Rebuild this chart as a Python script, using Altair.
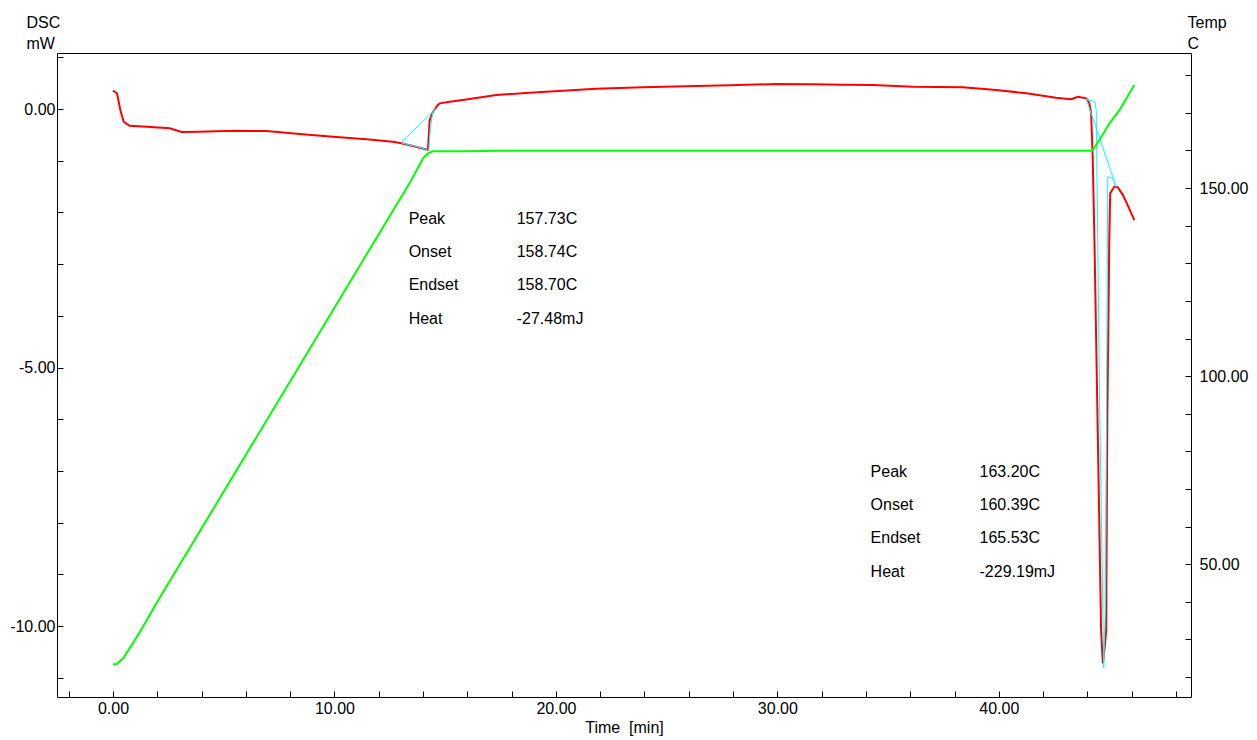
import altair as alt
import pandas as pd

# ---- data ----
dsc_time = [0.00, 0.18, 0.33, 0.48, 0.75, 1.51, 2.56, 3.09, 3.91, 5.42, 6.93, 8.43, 9.93, 11.44,
            12.64, 13.02, 13.54, 14.07, 14.22, 14.30, 14.45, 14.67, 14.75, 15.20, 15.80, 17.31,
            18.81, 20.32, 21.82, 23.93, 26.34, 27.84, 29.95, 31.50, 33.00, 34.31, 36.12, 38.37,
            39.88, 41.24, 42.59, 43.27, 43.57, 43.95, 44.09, 44.17, 44.24, 44.32, 44.46, 44.62,
            44.70, 44.77, 44.85, 44.90, 44.99, 45.03, 45.22, 45.37, 45.60, 45.82, 46.12]
dsc_mw = [0.354, 0.304, -0.02, -0.246, -0.323, -0.342, -0.373, -0.445, -0.439, -0.420, -0.426,
          -0.484, -0.536, -0.586, -0.632, -0.663, -0.716, -0.774, -0.793, -0.213, -0.052, 0.077,
          0.110, 0.141, 0.174, 0.271, 0.315, 0.354, 0.393, 0.420, 0.445, 0.458, 0.484, 0.48,
          0.47, 0.464, 0.431, 0.420, 0.368, 0.304, 0.219, 0.188, 0.238, 0.207, 0.110, -0.083,
          -0.923, -2.534, -6.03, -10.08, -10.72, -10.46, -10.08, -6.02, -2.53, -1.63, -1.50,
          -1.51, -1.66, -1.86, -2.15]

# integration (cyan) segments
base1_time = [13.02, 14.52]
base1_mw = [-0.644, -0.019]
peak1_time = [13.02, 13.54, 14.07, 14.26, 14.33, 14.45, 14.55]
peak1_mw = [-0.655, -0.71, -0.77, -0.80, -0.35, -0.05, 0.02]
base2_time = [43.95, 45.30]
base2_mw = [0.193, -1.503]
peak2_time = [43.95, 44.34, 44.40, 44.55, 44.74, 44.82, 44.92, 45.14, 45.30]
peak2_mw = [0.193, 0.141, -0.02, -5.63, -10.81, -9.5, -1.31, -1.34, -1.50]

temp_time = [0.00, 0.15, 0.45, 1.21, 1.96, 13.47, 14.00, 14.22, 14.45, 15.96, 17.46,
             44.22, 44.55, 45.00, 45.45, 46.12]
temp_c = [23.4, 23.4, 24.9, 31.9, 39.6, 152.1, 157.9, 159.2, 159.8, 159.8, 159.9,
          159.9, 162.8, 167.2, 170.7, 177.4]

ann_labels = ["Peak", "Onset", "Endset", "Heat", "Peak", "Onset", "Endset", "Heat"]
ann_values = ["157.73C", "158.74C", "158.70C", "-27.48mJ",
              "163.20C", "160.39C", "165.53C", "-229.19mJ"]
ann_label_t = [13.35] * 4 + [34.21] * 4
ann_value_t = [18.23] * 4 + [39.13] * 4
ann_mw = [-2.128, -2.766, -3.404, -4.062, -7.02, -7.66, -8.30, -8.96]

x_ticks = list(range(-2, 49, 2))
y_ticks = list(range(-11, 2, 1))
t_ticks = list(range(20, 181, 10))

# ---- tables ----
dsc_df = pd.DataFrame({"t": dsc_time, "v": dsc_mw, "i": range(len(dsc_time))})
rows = []
for name, ts, vs in [("b1", base1_time, base1_mw), ("p1", peak1_time, peak1_mw),
                     ("b2", base2_time, base2_mw), ("p2", peak2_time, peak2_mw)]:
    for k, (a, b) in enumerate(zip(ts, vs)):
        rows.append({"t": a, "v": b, "seg": name, "i": k})
cyan_df = pd.DataFrame(rows)
temp_df = pd.DataFrame({"t": temp_time, "T": temp_c, "i": range(len(temp_time))})
ann_df = pd.DataFrame({
    "t": ann_label_t + ann_value_t,
    "v": ann_mw + ann_mw,
    "txt": ann_labels + ann_values,
})

FONT = "Liberation Sans"
MINUS = "replace(format(datum.value, '.2f'), '\u2212', '-')"

xscale = alt.Scale(domain=[-2.53, 48.68], nice=False, zero=False)
yscale = alt.Scale(domain=[-11.37, 1.083], nice=False, zero=False)
tscale = alt.Scale(domain=[14.7, 185.9], nice=False, zero=False)

common = dict(domain=False, grid=False, offset=-6, tickSize=6, labelOverlap=False,
              labelFlush=False, labelFont=FONT, labelFontSize=16, labelColor="black",
              titleFont=FONT, titleFontSize=16, titleFontWeight="normal", titleColor="black",
              tickColor="black", tickWidth=1)

xaxis = alt.Axis(values=x_ticks, labelExpr=f"datum.value % 10 === 0 ? {MINUS} : ''",
                 labelPadding=3, title="Time\u00a0 [min]", titlePadding=3, **common)
yaxis = alt.Axis(values=y_ticks, labelExpr=f"datum.value % 5 === 0 ? {MINUS} : ''",
                 labelPadding=2, title=["DSC", "mW"], titleAngle=0, titleAlign="left",
                 titleBaseline="alphabetic", titleX=-37, titleY=-26, titleLineHeight=21,
                 **common)
taxis = alt.Axis(values=t_ticks, labelExpr=f"datum.value % 50 === 0 ? {MINUS} : ''",
                 orient="right", labelPadding=8,
                 title=["Temp", "C"], titleAngle=0, titleAlign="left",
                 titleBaseline="alphabetic", titleX=2, titleY=-26, titleLineHeight=21,
                 **common)

X = alt.X("t:Q", scale=xscale, axis=xaxis)
Y = alt.Y("v:Q", scale=yscale, axis=yaxis)

red = alt.Chart(dsc_df).mark_line(color="#FF0000", strokeWidth=2).encode(
    x=X, y=Y, order="i:Q")
cyan = alt.Chart(cyan_df).mark_line(color="#00FFFF", strokeWidth=1).encode(
    x=X, y=Y, detail="seg:N", order="i:Q")
text = alt.Chart(ann_df).mark_text(align="left", baseline="middle", font=FONT,
                                   fontSize=16, color="black").encode(
    x=X, y=Y, text="txt:N")
green = alt.Chart(temp_df).mark_line(color="#00FF00", strokeWidth=2).encode(
    x=X, y=alt.Y("T:Q", scale=tscale, axis=taxis), order="i:Q")

left = alt.layer(red, cyan, text)
chart = alt.layer(left, green).resolve_scale(y="independent").properties(
    width=1134, height=644,
    background="white",
    autosize=alt.AutoSizeParams(type="none"),
    padding={"left": 49, "top": 45, "right": 58, "bottom": 42},
).configure_view(stroke="black", strokeWidth=1)

chart.save("out.html", embed_options={"renderer": "svg", "actions": False})
